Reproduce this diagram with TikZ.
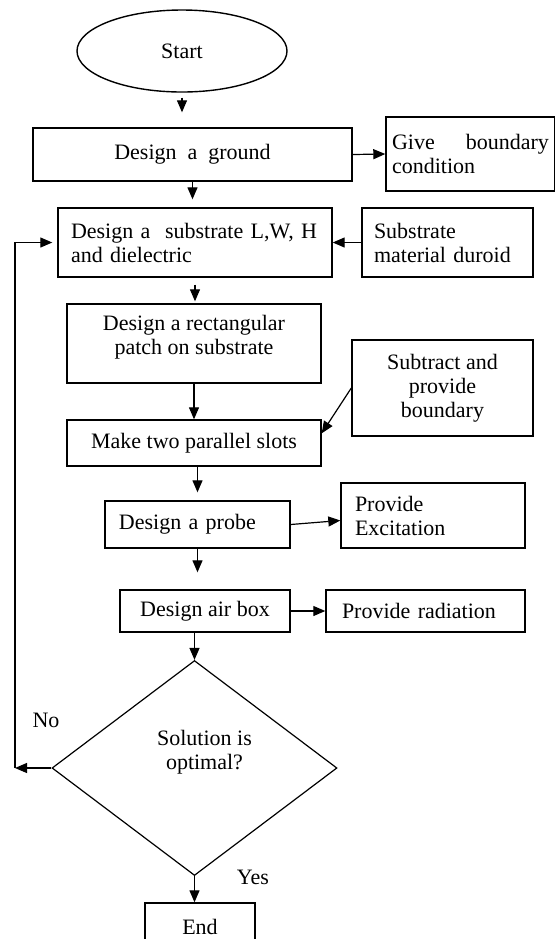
\documentclass[tikz,border=0pt]{standalone}
\usepackage{fontspec}
\setmainfont{Liberation Serif}
\usetikzlibrary{arrows.meta,shapes.geometric}

\begin{document}
\begin{tikzpicture}[x=0.5pt,y=-0.5pt,font=\fontsize{11}{12}\selectfont,
  box/.style={draw,line width=0.7pt,inner sep=0pt,align=center},
  lbox/.style={draw,line width=0.7pt,inner ysep=0pt,align=left},
  arr/.style={line width=0.6pt,-{Triangle[length=6pt,width=5pt]}}]
\useasboundingbox (0,0) rectangle (555,939);
\node[box,ellipse,minimum width=105pt,minimum height=41pt] (start) at (182,51) {Start};
\node[box,minimum width=159.5pt,minimum height=26.5pt] (ground) at (192.5,154.5) {Design\ \ a\ \ ground};
\node[lbox,inner xsep=3pt,text width=78.5pt,minimum height=37pt] (bound) at (470.5,154) {Give\hfill boundary\\condition};
\node[lbox,inner xsep=6.5pt,text width=124pt,minimum height=34.5pt] (subs) at (195,242.5) {Design a\ \ substrate L,W, H\\and dielectric};
\node[lbox,inner xsep=6pt,text width=73.5pt,minimum height=34.5pt] (mat) at (447.5,242.5) {Substrate\\material duroid};
\node[box,minimum width=127pt,minimum height=39.5pt] (patch) at (194,343.5) {\raisebox{3pt}[\height][\depth]{\begin{tabular}{@{}c@{}}Design a rectangular\\patch on substrate\end{tabular}}};
\node[box,minimum width=90.5pt,minimum height=48pt] (subtr) at (442.5,388) {Subtract and\\provide\\boundary};
\node[box,minimum width=127pt,minimum height=23pt] (slots) at (194,443) {Make two parallel slots};
\node[lbox,inner xsep=7pt,text width=78.5pt,minimum height=23.5pt] (probe) at (197.5,524.5) {Design a probe};
\node[lbox,inner xsep=7pt,text width=78pt,minimum height=32.5pt] (excit) at (433,515.5) {Provide\\Excitation};
\node[box,minimum width=85pt,minimum height=21pt] (air) at (205,611) {Design air box};
\node[lbox,inner xsep=8pt,text width=83.5pt,minimum height=21pt] (rad) at (425.5,611) {Provide radiation};
\node[box,diamond,line width=0.6pt,minimum width=142.5pt,minimum height=107.5pt] (dec) at (194.5,768) {\hspace*{10pt}\raisebox{7.5pt}[\height][\depth]{\begin{tabular}{@{}c@{}}Solution is\\optimal?\end{tabular}}};
\node[box,minimum width=55pt,minimum height=24pt] (end) at (200,927) {End};
\node (nolbl) at (46,720) {No};
\node (yeslbl) at (253,877) {Yes};
\coordinate (fb) at (15,768);
\draw[arr,shorten <=2.5pt,shorten >=7.5pt] (start.south) -- (start.south |- ground.north);
\draw[arr,shorten >=4pt] (ground.south) -- (ground.south |- subs.north);
\draw[arr,shorten <=3.5pt,shorten >=1pt] (subs.south) -- (subs.south |- patch.north);
\draw[arr] (patch.south) -- (patch.south |- slots.north);
\draw[arr,shorten >=4pt] (probe.north |- slots.south) -- (probe.north);
\draw[arr,shorten >=8.5pt] (probe.south) -- (probe.south |- air.north);
\draw[arr] (dec.north |- air.south) -- (dec.north);
\draw[arr] (dec.south) -- (dec.south |- end.north);
\foreach \a/\b in {ground/bound,air/rad} \draw[arr] (\a.east) -- (\b.west);
\draw[arr] (mat.west) -- (subs.east);
\draw[arr] (subtr.west) -- ([yshift=-7pt]slots.north east);
\draw[arr] (probe.east) -- ([yshift=2pt]excit.west |- probe.east);
\draw[arr] (dec.west) -- (fb);
\draw[arr,shorten >=2.5pt] (fb) |- (subs.west);
\end{tikzpicture}
\end{document}
